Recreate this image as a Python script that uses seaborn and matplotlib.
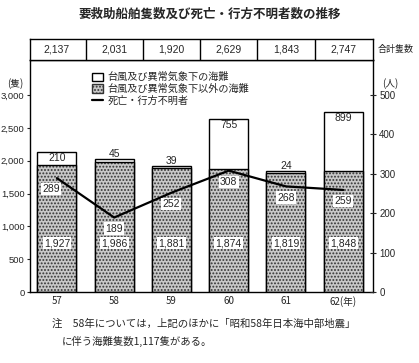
import numpy as np
import pandas as pd
import matplotlib
matplotlib.use("Agg")
import matplotlib.pyplot as plt
import seaborn as sns
from matplotlib.patches import Patch
from matplotlib.lines import Line2D

years = ["57", "58", "59", "60", "61", "62"]
xlabels = ["57", "58", "59", "60", "61", "62(年)"]
other = [1927, 1986, 1881, 1874, 1819, 1848]      # 台風及び異常気象下以外の海難
typhoon = [210, 45, 39, 755, 24, 899]             # 台風及び異常気象下の海難
totals = [2137, 2031, 1920, 2629, 1843, 2747]     # 合計隻数
deaths = [289, 189, 252, 308, 268, 259]           # 死亡・行方不明者

sns.set_style("white")
plt.rcParams['font.family'] = ['Noto Sans CJK JP', 'DejaVu Sans']
plt.rcParams['hatch.linewidth'] = 0.9
NUM = ['Liberation Sans', 'DejaVu Sans']

df = pd.DataFrame({"year": years, "other": other, "typhoon": typhoon,
                   "total": totals, "deaths": deaths})

fig = plt.figure(figsize=(4.19, 3.63), dpi=100)
L, R = 30 / 419, 373 / 419
B, T = 1 - 292 / 363, 1 - 60 / 363
ax = fig.add_axes([L, B, R - L, T - B])
W = 0.68
HC = "#333333"
FC = "#c8c8c8"

sns.barplot(data=df, x="year", y="total", color="white", edgecolor="black",
            linewidth=1.0, width=W, ax=ax, saturation=1)
sns.barplot(data=df, x="year", y="other", color=FC, edgecolor=HC,
            linewidth=0, hatch=".....", width=W, ax=ax, saturation=1)
sns.barplot(data=df, x="year", y="other", fill=False, edgecolor="black",
            linewidth=1.0, width=W, ax=ax)

ax.set_xlim(-0.47, 5.52)
ax.set_ylim(0, 3533)
ax.set_yticks(np.arange(0, 3001, 500))
ax.set_yticklabels([f"{v:,}" for v in range(0, 3001, 500)], fontsize=6.8, family=NUM)
ax.set_xticks(range(6))
ax.set_xticklabels(xlabels, fontsize=7)
ax.tick_params(axis="x", length=0, pad=3)
ax.tick_params(axis="y", direction="out", length=2.5, width=0.8, pad=1.5)
ax.set_xlabel("")
ax.set_ylabel("")
for s in ax.spines.values():
    s.set_linewidth(1.0)
    s.set_color("black")

ax2 = ax.twinx()
sns.lineplot(x=np.arange(6), y=deaths, color="black", linewidth=1.6, ax=ax2)
ax2.set_ylim(0, 3533 / 6)
ax2.set_yticks(np.arange(0, 501, 100))
ax2.set_yticklabels([str(v) for v in range(0, 501, 100)], fontsize=7, family=NUM)
ax2.tick_params(axis="y", direction="inout", length=5, width=0.8, pad=2)
ax2.set_xlim(-0.47, 5.52)
for s in ax2.spines.values():
    s.set_visible(False)

box = dict(boxstyle="square,pad=0.12", fc="white", ec="none")
for i in range(6):
    ax.text(i, 745, f"{other[i]:,}", ha="center", va="center", fontsize=7.5,
            family=NUM, bbox=box)
    if typhoon[i] >= 150:
        ax.text(i, totals[i] - 90, f"{typhoon[i]:,}", ha="center", va="center",
                fontsize=7.5, family=NUM)
    else:
        ax.text(i, totals[i] + 70, f"{typhoon[i]:,}", ha="center", va="center",
                fontsize=7.5, family=NUM)
    dx = -4 if i == 0 else 0
    ax2.annotate(str(deaths[i]), (i, deaths[i]), xytext=(dx, -8),
                 textcoords="offset points", ha="center", va="center",
                 fontsize=7.5, family=NUM, bbox=box)

handles = [Patch(facecolor="white", edgecolor="black", linewidth=1.0),
           Patch(facecolor=FC, edgecolor=HC, hatch=".....", linewidth=1.0),
           Line2D([0], [0], color="black", linewidth=1.6)]
leg = ax.legend(handles, ["台風及び異常気象下の海難", "台風及び異常気象下以外の海難",
                          "死亡・行方不明者"],
                loc="upper left", bbox_to_anchor=(0.17, 0.965), frameon=False,
                fontsize=7.3, handlelength=1.0, handleheight=0.9, handletextpad=0.5,
                labelspacing=0.15, borderaxespad=0)

fig.text(15 / 419, 1 - 84 / 363, "(隻)", fontsize=7, ha="center", va="center")
fig.text(390 / 419, 1 - 84 / 363, "(人)", fontsize=7, ha="center", va="center")

# top table of totals
tb = fig.add_axes([L, T, R - L, (60 - 39) / 363])
tb.set_xlim(-0.47, 5.52)
tb.set_ylim(0, 1)
tb.set_xticks([])
tb.set_yticks([])
for s in tb.spines.values():
    s.set_linewidth(1.0)
    s.set_color("black")
for i in range(5):
    tb.axvline(i + 0.5, color="black", linewidth=1.0)
for i in range(6):
    tb.text(i, 0.5, f"{totals[i]:,}", ha="center", va="center", fontsize=7.5,
            family=NUM)
fig.text(396 / 419, 1 - 49 / 363, "合計隻数", fontsize=6.5, ha="center", va="center")

fig.text(0.5, 1 - 14 / 363, "要救助船舶隻数及び死亡・行方不明者数の推移",
         fontsize=9, fontweight="bold", ha="center", va="center")
fig.text(52 / 419, 1 - 324 / 363,
         "注　58年については，上記のほかに「昭和58年日本海中部地震」",
         fontsize=7.5, ha="left", va="center")
fig.text(62 / 419, 1 - 341 / 363, "に伴う海難隻数1,117隻がある。",
         fontsize=7.5, ha="left", va="center")

fig.savefig("out.png", dpi=100)
